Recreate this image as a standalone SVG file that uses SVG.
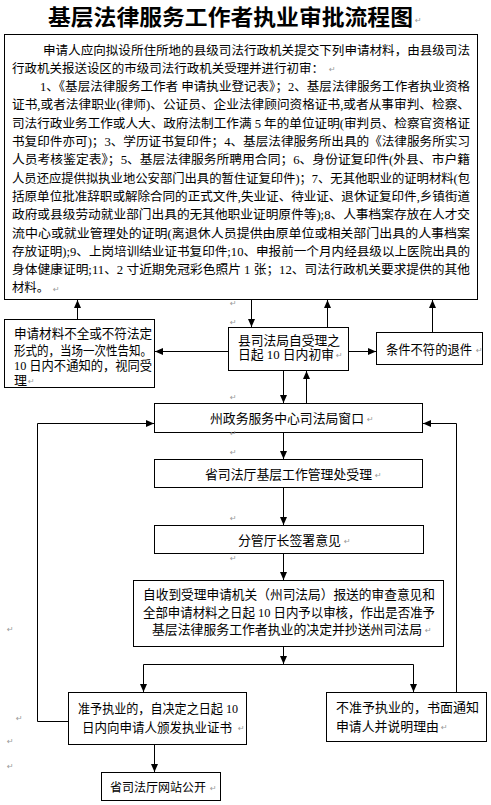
<svg xmlns="http://www.w3.org/2000/svg" width="491" height="805" viewBox="0 0 491 805">
<style>
.bg{fill:#fff}
.box{fill:#fff;stroke:#000;stroke-width:1}
.t{font-family:"Liberation Serif","Noto Sans CJK SC",serif;font-size:12.5px;fill:#000}
.m{font-family:"Liberation Serif","Noto Sans CJK SC",serif;font-size:13px;fill:#000}
.title{font-family:"Noto Sans CJK SC",sans-serif;font-size:21.5px;font-weight:bold;fill:#000}
.pm{font-family:"DejaVu Sans",sans-serif;font-size:8px;fill:#999}
.ln{fill:none;stroke:#000;stroke-width:1}
</style>
<defs>
<marker id="ah" viewBox="0 0 8 8" refX="8" refY="4" markerWidth="8" markerHeight="8" markerUnits="userSpaceOnUse" orient="auto">
<path d="M0,0.5 L8,4 L0,7.5 Z" fill="#000"/>
</marker>
</defs>
<rect class="bg" x="0" y="0" width="491" height="805"/>

<g id="title">
<text class="title" x="48" y="25" textLength="365" lengthAdjust="spacingAndGlyphs">基层法律服务工作者执业审批流程图</text>
<text class="pm" x="415" y="23">↵</text>
</g>

<g id="materials">
<rect class="box" x="4.5" y="34.5" width="473" height="265"/>
<text class="t" x="43" y="54.5" textLength="427" lengthAdjust="spacingAndGlyphs">申请人应向拟设所住所地的县级司法行政机关提交下列申请材料，由县级司法</text>
<text class="t" x="12" y="72.8" textLength="312" lengthAdjust="spacingAndGlyphs">行政机关报送设区的市级司法行政机关受理并进行初审：</text>
<text class="pm" x="329" y="72">↵</text>
<text class="t" x="40" y="91.1" textLength="430" lengthAdjust="spacingAndGlyphs">1、《基层法律服务工作者 申请执业登记表》；2、基层法律服务工作者执业资格</text>
<text class="t" x="12" y="109.4" textLength="458" lengthAdjust="spacingAndGlyphs">证书,或者法律职业(律师)、公证员、企业法律顾问资格证书,或者从事审判、检察、</text>
<text class="t" x="12" y="127.7" textLength="458" lengthAdjust="spacingAndGlyphs">司法行政业务工作或人大、政府法制工作满 5 年的单位证明(审判员、检察官资格证</text>
<text class="t" x="12" y="146" textLength="458" lengthAdjust="spacingAndGlyphs">书复印件亦可)；3、学历证书复印件；4、基层法律服务所出具的《法律服务所实习</text>
<text class="t" x="12" y="164.3" textLength="458" lengthAdjust="spacingAndGlyphs">人员考核鉴定表》；5、基层法律服务所聘用合同；6、身份证复印件(外县、市户籍</text>
<text class="t" x="12" y="182.6" textLength="458" lengthAdjust="spacingAndGlyphs">人员还应提供拟执业地公安部门出具的暂住证复印件)；7、无其他职业的证明材料(包</text>
<text class="t" x="12" y="200.9" textLength="458" lengthAdjust="spacingAndGlyphs">括原单位批准辞职或解除合同的正式文件,失业证、待业证、退休证复印件,乡镇街道</text>
<text class="t" x="12" y="219.2" textLength="458" lengthAdjust="spacingAndGlyphs">政府或县级劳动就业部门出具的无其他职业证明原件等);8、人事档案存放在人才交</text>
<text class="t" x="12" y="237.5" textLength="458" lengthAdjust="spacingAndGlyphs">流中心或就业管理处的证明(离退休人员提供由原单位或相关部门出具的人事档案</text>
<text class="t" x="12" y="255.8" textLength="458" lengthAdjust="spacingAndGlyphs">存放证明);9、上岗培训结业证书复印件;10、申报前一个月内经县级以上医院出具的</text>
<text class="t" x="12" y="274.1" textLength="458" lengthAdjust="spacingAndGlyphs">身体健康证明;11、2 寸近期免冠彩色照片 1 张；12、司法行政机关要求提供的其他</text>
<text class="t" x="12" y="292.4" textLength="37" lengthAdjust="spacingAndGlyphs">材料。</text>
<text class="pm" x="53" y="292">↵</text>
</g>

<g id="incomplete">
<rect class="box" x="4.5" y="319.5" width="150" height="68"/>
<text class="m" x="14" y="338" textLength="138" lengthAdjust="spacingAndGlyphs">申请材料不全或不符法定</text>
<text class="m" x="14" y="354.5" textLength="138" lengthAdjust="spacingAndGlyphs">形式的，当场一次性告知。</text>
<text class="m" x="14" y="370" textLength="138" lengthAdjust="spacingAndGlyphs">10 日内不通知的，视同受</text>
<text class="m" x="14" y="385">理</text>
<text class="pm" x="28" y="384">↵</text>
</g>

<g id="county">
<rect class="box" x="228.5" y="327.5" width="120" height="43"/>
<text class="m" x="238" y="344.5" textLength="102" lengthAdjust="spacingAndGlyphs">县司法局自受理之</text>
<text class="m" x="238" y="358.5" textLength="96" lengthAdjust="spacingAndGlyphs">日起 10 日内初审</text>
<text class="pm" x="336" y="358">↵</text>
</g>

<g id="reject">
<rect class="box" x="376.5" y="332.5" width="106" height="32"/>
<text class="m" x="386" y="353.5" textLength="86" lengthAdjust="spacingAndGlyphs">条件不符的退件</text>
<text class="pm" x="476" y="353">↵</text>
</g>

<g id="window">
<rect class="box" x="154.5" y="403.5" width="268" height="29"/>
<text class="m" x="210" y="422.5" textLength="154" lengthAdjust="spacingAndGlyphs">州政务服务中心司法局窗口</text>
<text class="pm" x="367" y="422">↵</text>
</g>

<g id="province">
<rect class="box" x="154.5" y="459.5" width="268" height="28"/>
<text class="m" x="205" y="478.5" textLength="167" lengthAdjust="spacingAndGlyphs">省司法厅基层工作管理处受理</text>
<text class="pm" x="375" y="478">↵</text>
</g>

<g id="sign">
<rect class="box" x="154.5" y="525.5" width="269" height="28"/>
<text class="m" x="238" y="544.5" textLength="103" lengthAdjust="spacingAndGlyphs">分管厅长签署意见</text>
<text class="pm" x="344" y="544">↵</text>
</g>

<g id="review">
<rect class="box" x="133.5" y="580.5" width="310" height="66"/>
<text class="m" x="143" y="598.5" textLength="292" lengthAdjust="spacingAndGlyphs">自收到受理申请机关（州司法局）报送的审查意见和</text>
<text class="m" x="143" y="617" textLength="292" lengthAdjust="spacingAndGlyphs">全部申请材料之日起 10 日内予以审核，作出是否准予</text>
<text class="m" x="152" y="633.5" textLength="270" lengthAdjust="spacingAndGlyphs">基层法律服务工作者执业的决定并抄送州司法局</text>
<text class="pm" x="425" y="633">↵</text>
</g>

<g id="approve">
<rect class="box" x="68.5" y="692.5" width="178" height="52"/>
<text class="m" x="78" y="712.5" textLength="160" lengthAdjust="spacingAndGlyphs">准予执业的，自决定之日起 10</text>
<text class="m" x="82" y="731.5" textLength="150" lengthAdjust="spacingAndGlyphs">日内向申请人颁发执业证书</text>
<text class="pm" x="238" y="731">↵</text>
</g>

<g id="deny">
<rect class="box" x="326.5" y="692.5" width="160" height="49"/>
<text class="m" x="336" y="711.5" textLength="143" lengthAdjust="spacingAndGlyphs">不准予执业的，书面通知</text>
<text class="m" x="336" y="730.5" textLength="103" lengthAdjust="spacingAndGlyphs">申请人并说明理由</text>
<text class="pm" x="441" y="730">↵</text>
</g>

<g id="publish">
<rect class="box" x="101.5" y="772.5" width="119" height="28"/>
<text class="m" x="110" y="791.5" style="font-size:12px">省司法厅网站公开</text>
<text class="pm" x="210" y="791">↵</text>
</g>

<g id="marks">
<text class="pm" x="230" y="306">↵</text>
<text class="pm" x="230" y="325">↵</text>
<text class="pm" x="230" y="400">↵</text>
<text class="pm" x="230" y="436">↵</text>
<text class="pm" x="230" y="455">↵</text>
<text class="pm" x="230" y="521">↵</text>
<text class="pm" x="230" y="561">↵</text>
<text class="pm" x="7" y="632">↵</text>
<text class="pm" x="16" y="721">↵</text>
<text class="pm" x="7" y="744">↵</text>
<text class="pm" x="7" y="769">↵</text>
</g>

<g id="connectors">
<line class="ln" x1="251.5" y1="300" x2="251.5" y2="327" marker-end="url(#ah)"/>
<line class="ln" x1="327.5" y1="327" x2="327.5" y2="300" marker-end="url(#ah)"/>
<line class="ln" x1="77.5" y1="319" x2="77.5" y2="300" marker-end="url(#ah)"/>
<line class="ln" x1="432.5" y1="332" x2="432.5" y2="300" marker-end="url(#ah)"/>
<line class="ln" x1="228" y1="351.5" x2="155" y2="351.5" marker-end="url(#ah)"/>
<line class="ln" x1="349" y1="351.5" x2="376" y2="351.5" marker-end="url(#ah)"/>
<line class="ln" x1="283.5" y1="371" x2="283.5" y2="403" marker-end="url(#ah)"/>
<line class="ln" x1="306.5" y1="403" x2="306.5" y2="371" marker-end="url(#ah)"/>
<line class="ln" x1="283.5" y1="433" x2="283.5" y2="459" marker-end="url(#ah)"/>
<line class="ln" x1="283.5" y1="488" x2="283.5" y2="525" marker-end="url(#ah)"/>
<line class="ln" x1="283.5" y1="554" x2="283.5" y2="580" marker-end="url(#ah)"/>
<line class="ln" x1="283.5" y1="647" x2="283.5" y2="664" marker-end="url(#ah)"/>
<polyline class="ln" points="143.5,692 143.5,664.5 413.5,664.5 413.5,692"/>
<line class="ln" x1="143.5" y1="680" x2="143.5" y2="692" marker-end="url(#ah)"/>
<line class="ln" x1="413.5" y1="680" x2="413.5" y2="692" marker-end="url(#ah)"/>
<line class="ln" x1="154.5" y1="745" x2="154.5" y2="772" marker-end="url(#ah)"/>
<polyline class="ln" points="68,721.5 37.5,721.5 37.5,423.5 154,423.5" marker-end="url(#ah)"/>
<polyline class="ln" points="456.5,692 456.5,423.5 423,423.5" marker-end="url(#ah)"/>
</g>
</svg>
